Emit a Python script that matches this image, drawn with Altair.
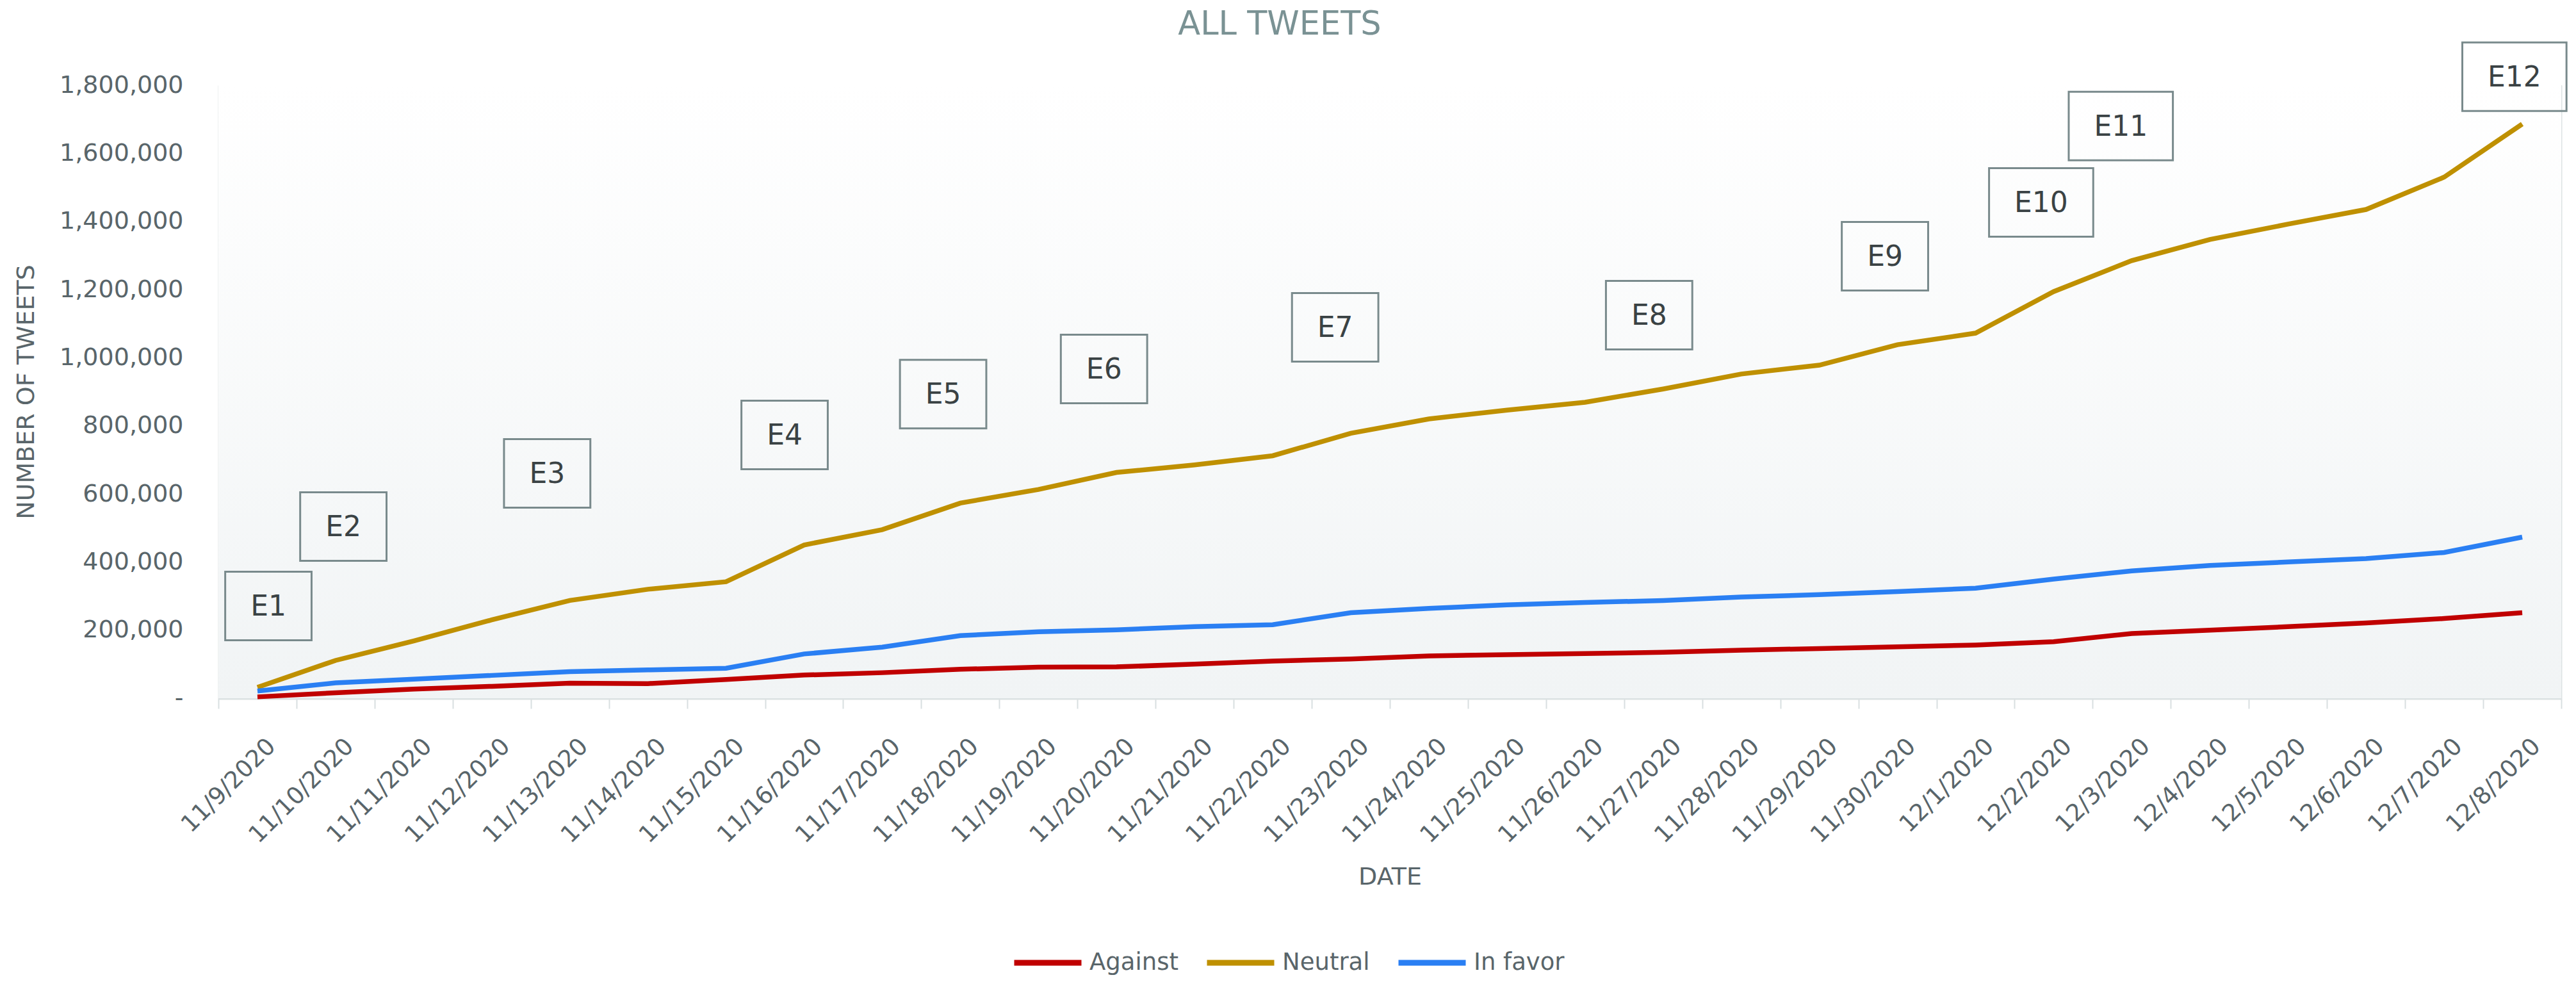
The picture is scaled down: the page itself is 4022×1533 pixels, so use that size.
import json
import altair as alt
import pandas as pd

dates = ["11/9/2020", "11/10/2020", "11/11/2020", "11/12/2020", "11/13/2020", "11/14/2020",
         "11/15/2020", "11/16/2020", "11/17/2020", "11/18/2020", "11/19/2020", "11/20/2020",
         "11/21/2020", "11/22/2020", "11/23/2020", "11/24/2020", "11/25/2020", "11/26/2020",
         "11/27/2020", "11/28/2020", "11/29/2020", "11/30/2020", "12/1/2020", "12/2/2020",
         "12/3/2020", "12/4/2020", "12/5/2020", "12/6/2020", "12/7/2020", "12/8/2020"]

against = [4000, 16000, 27000, 35000, 44000, 43000, 55000, 68000, 75000, 85000,
           91000, 92000, 100000, 109000, 115000, 124000, 128000, 131000, 135000, 141000,
           146000, 151000, 156000, 166000, 190000, 200000, 210000, 221000, 234000, 251000]

neutral = [32000, 111000, 168000, 230000, 287000, 320000, 342000, 450000, 495000, 573000,
           613000, 663000, 685000, 712000, 778000, 820000, 846000, 869000, 908000, 952000,
           978000, 1038000, 1072000, 1194000, 1285000, 1347000, 1392000, 1435000, 1530000, 1686000]

in_favor = [21000, 45000, 56000, 67000, 78000, 83000, 88000, 130000, 150000, 184000,
            195000, 201000, 210000, 216000, 251000, 264000, 274000, 281000, 287000, 297000,
            304000, 313000, 323000, 350000, 374000, 390000, 400000, 410000, 428000, 473000]

series_names = ["Against", "Neutral", "In favor"]
series_colors = ["#c00000", "#bf9000", "#2a7ff3"]

ann_labels = ["E1", "E2", "E3", "E4", "E5", "E6", "E7", "E8", "E9", "E10", "E11", "E12"]
ann_pos = [0.14, 1.1, 3.71, 6.75, 8.78, 10.84, 13.8, 17.82, 20.84, 22.84, 23.86, 28.9]
ann_values = [271000, 504000, 660000, 773000, 893000, 967000, 1089000, 1125000,
              1298000, 1456000, 1680000, 1825000]

y_ticks = [0, 200000, 400000, 600000, 800000, 1000000, 1200000, 1400000, 1600000, 1800000]

chart_title = "ALL TWEETS"

rows = []
for name, vals in zip(series_names, [against, neutral, in_favor]):
    for i, (d, v) in enumerate(zip(dates, vals)):
        rows.append({"idx": i, "date": d, "series": name, "value": v})
df = pd.DataFrame(rows)
ann_df = pd.DataFrame({"label": ann_labels, "pos": ann_pos, "val": ann_values})

W, H = 3658, 957
FONT = "DejaVu Sans"
TXT = "#59656a"

x_scale = alt.Scale(domain=[-0.5, len(dates) - 0.5], nice=False, zero=False)
y_scale = alt.Scale(domain=[0, 1800000], nice=False)

label_expr = "datum.value % 1 == 0 ? " + json.dumps(dates) + "[datum.value] : ''"
tick_vals = [i * 0.5 - 0.5 for i in range(2 * len(dates) + 1)]

x_axis = alt.Axis(
    values=tick_vals, grid=True, gridColor="#dde3e4", gridWidth=2,
    labelExpr=label_expr, labelAngle=-45, labelAlign="right", labelBaseline="middle",
    labelFontSize=37, labelColor=TXT, labelFont=FONT, labelPadding=53, labelLimit=400,
    labelOffset=22, labelOverlap=False, labelFlush=False, labelBound=False,
    tickColor={"condition": {"test": "datum.value % 1 != 0", "value": "#d8dfe0"}, "value": "transparent"},
    tickSize=16, tickWidth=2, domainColor="#dbe1e2", domainWidth=4,
    title="DATE", titleFontSize=38, titleFontWeight="normal", titleColor=TXT,
    titleFont=FONT, titlePadding=60,
)

y_axis = alt.Axis(
    values=y_ticks, grid=False, domain=False, ticks=False,
    labelExpr="datum.value == 0 ? '-\u00a0\u00a0\u00a0' : format(datum.value, ',')",
    labelFontSize=38, labelColor=TXT, labelFont=FONT, labelPadding=55, labelFlush=False,
    labelLimit=400,
    title="NUMBER OF TWEETS", titleFontSize=38, titleFontWeight="normal",
    titleColor=TXT, titleFont=FONT, titleX=-300, titleY=H / 2, titleAngle=-90,
    titleAlign="center", titleBaseline="middle",
)

gradient = {"gradient": "linear", "x1": 0, "y1": 0, "x2": 0, "y2": 1,
            "stops": [{"offset": 0, "color": "#ffffff"}, {"offset": 1, "color": "#f1f4f5"}]}

bg = alt.Chart(pd.DataFrame({"a": [0]})).mark_rect(color=gradient).encode(
    x=alt.value(0), x2=alt.value(W), y=alt.value(0), y2=alt.value(H)
)

title_mark = alt.Chart(pd.DataFrame({"t": [chart_title]})).mark_text(
    fontSize=51, color="#7a9294", font=FONT, baseline="middle", align="center"
).encode(x=alt.value(1657), y=alt.value(-94), text="t:N")

lines = alt.Chart(df).mark_line(strokeWidth=7.5).encode(
    x=alt.X("idx:Q", scale=x_scale, axis=x_axis),
    y=alt.Y("value:Q", scale=y_scale, axis=y_axis),
    color=alt.Color(
        "series:N",
        scale=alt.Scale(domain=series_names, range=series_colors),
        legend=alt.Legend(
            title=None, orient="none", legendX=1238, legendY=1313, direction="horizontal",
            symbolType="stroke", symbolSize=11025, symbolStrokeWidth=9,
            labelFontSize=37, labelColor=TXT, labelFont=FONT, columnPadding=26,
            labelOffset=8, padding=0,
        ),
    ),
)

narrow = "M-1.26,-1H1.26V1H-1.26Z"
wide = "M-1.52,-1H1.52V1H-1.52Z"

boxes = alt.Chart(ann_df).mark_point(filled=False, stroke="#798a8c", strokeWidth=3,
                                     size=11449, opacity=1).encode(
    x=alt.X("pos:Q", scale=x_scale),
    y=alt.Y("val:Q", scale=y_scale),
    shape=alt.condition("length(datum.label) > 2", alt.value(wide), alt.value(narrow)),
)

texts = alt.Chart(ann_df).mark_text(fontSize=44, color="#3a4244", font=FONT,
                                    baseline="middle", align="center", dy=2).encode(
    x=alt.X("pos:Q", scale=x_scale),
    y=alt.Y("val:Q", scale=y_scale),
    text="label:N",
)

chart = alt.layer(bg, lines, boxes, texts, title_mark).properties(
    width=W, height=H,
    autosize=alt.AutoSizeParams(type="none"),
    padding={"left": 333, "top": 125, "right": 15, "bottom": 435},
).configure_view(strokeWidth=0).configure(background="#ffffff")

chart.save("out.html", embed_options={"renderer": "svg", "actions": False})
